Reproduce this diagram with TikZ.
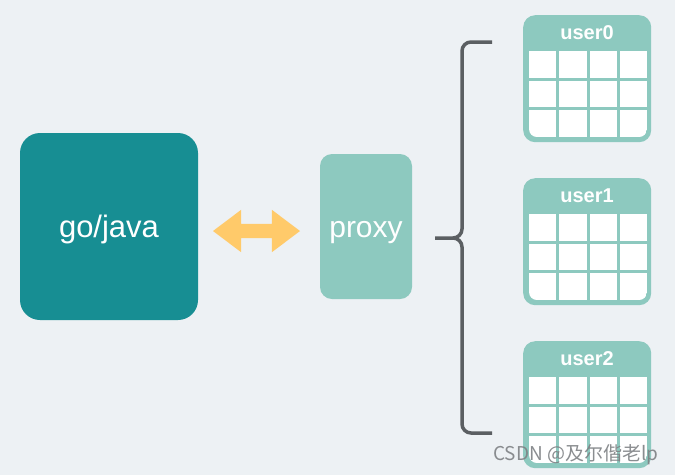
\documentclass[tikz,border=0pt]{standalone}
\usepackage{fontspec}
\setmainfont{Liberation Sans}
\newfontfamily\cjk{Noto Sans CJK SC}
\usetikzlibrary{shapes.arrows}
\definecolor{bgc}{HTML}{EDF1F4}
\definecolor{darkteal}{HTML}{178E93}
\definecolor{lightteal}{HTML}{8DC9BF}
\definecolor{arrowc}{HTML}{FFCA6A}
\definecolor{bracec}{HTML}{5B5F62}
\definecolor{wmc}{HTML}{7E8184}
\tikzset{
  bigbox/.style={fill=darkteal, rounded corners=20pt, minimum width=178pt, minimum height=187pt, text=white, font=\fontsize{31}{36}\selectfont, inner sep=0pt, text height=22pt, text depth=1pt},
  proxybox/.style={fill=lightteal, rounded corners=12pt, minimum width=92pt, minimum height=145pt, text=white, font=\fontsize{30}{36}\selectfont, inner sep=0pt, text height=22pt, text depth=1pt},
  tablebox/.style={fill=lightteal, rounded corners=12pt, minimum width=128pt, minimum height=127pt, inner sep=0pt},
  tablelabel/.style={text=white, font=\bfseries\fontsize{20}{24}\selectfont, inner sep=0pt},
  cell/.style={fill=white},
  bracestyle/.style={draw=bracec, line width=3.5pt},
  dblarrow/.style={double arrow, fill=arrowc, draw=none, minimum height=87pt, minimum width=42pt, inner sep=7pt, double arrow head extend=14pt, double arrow tip angle=74},
}
\newcommand\utable[3]{%
  \begin{scope}[shift={(523,#2)}]
    \node[tablebox, anchor=north west] (#1) at (0,0) {};
    \node[tablelabel] (#1lab) at (64,18) {#3};
    \begin{scope}
      \clip (6,36) -- (124,36) -- (124,114) arc[start angle=0, end angle=-90, radius=8pt] -- (14,122) arc[start angle=270, end angle=180, radius=8pt] -- cycle;
      \foreach \c in {0,1,2,3}{
        \foreach \r in {0,1,2}{
          \fill[cell] ({6+\c*30.25},{36+\r*29.67}) rectangle ++(27.25,26.67);
        }
      }
    \end{scope}
  \end{scope}
}
\begin{document}
\begin{tikzpicture}[x=1pt, y=-1pt]
  \useasboundingbox (0,0) rectangle (675,475);
  \fill[bgc] (0,0) rectangle (675,475);
  \node[bigbox] (app) at (109,226.5) {go/java};
  \node[proxybox] (proxy) at (366,226.5) {proxy};
  \node[dblarrow] (arr) at (256.5,231) {};
  \coordinate (btop) at (492,42);
  \coordinate (bbot) at (492,433);
  \coordinate (btip) at (435,238);
  \draw[bracestyle] (btop) -- (471,42) to[out=180,in=90] (462,51) -- (462,229) to[out=270,in=0] (453,238) -- (btip);
  \draw[bracestyle] (453,238) to[out=0,in=90] (462,247) -- (462,424) to[out=270,in=180] (471,433) -- (bbot);
  \utable{user0}{15}{user0}
  \utable{user1}{178}{user1}
  \utable{user2}{341}{user2}
  \node[anchor=west, text=wmc, opacity=0.9, font=\cjk\fontsize{19}{22}\selectfont, inner sep=0pt] (wm) at (493,455) {CSDN @及尔偕老lp};
\end{tikzpicture}
\end{document}
